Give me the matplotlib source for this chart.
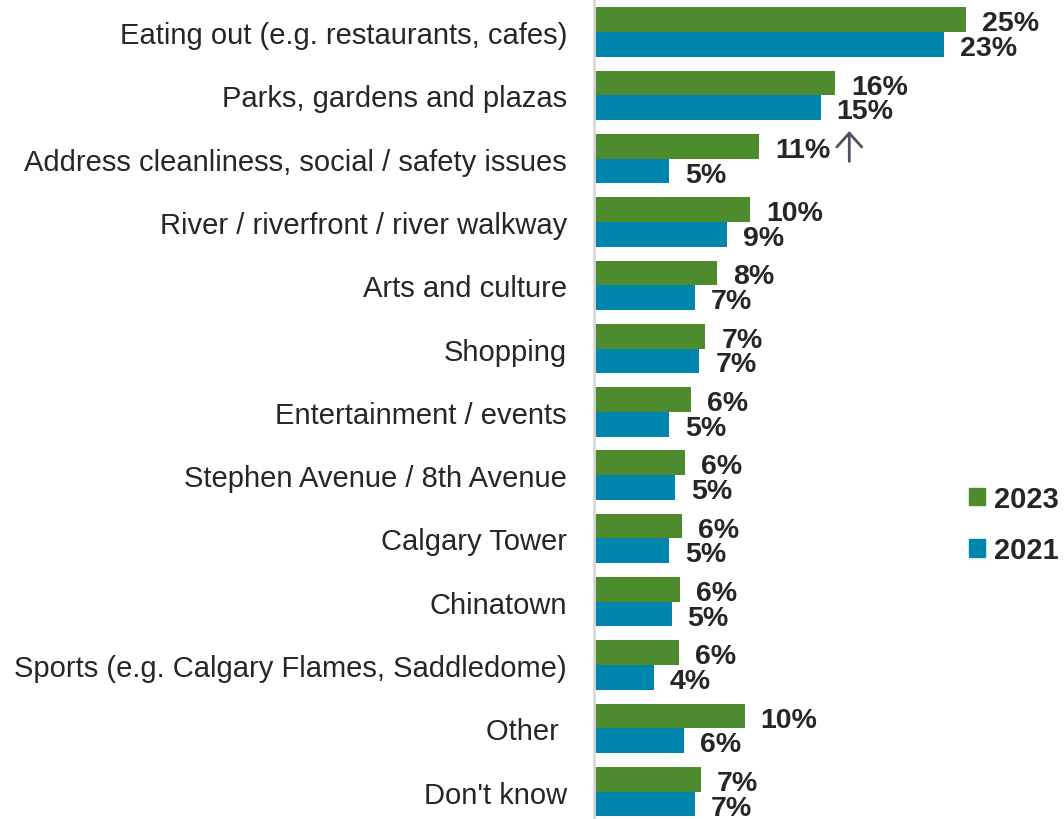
import matplotlib
matplotlib.use("Agg")
import matplotlib.pyplot as plt
from matplotlib.patches import Patch, FancyArrowPatch
from matplotlib.transforms import ScaledTranslation
import numpy as np

plt.rcParams['font.family'] = 'Liberation Sans'

categories = [
    "Eating out (e.g. restaurants, cafes)",
    "Parks, gardens and plazas",
    "Address cleanliness, social / safety issues",
    "River / riverfront / river walkway",
    "Arts and culture",
    "Shopping",
    "Entertainment / events",
    "Stephen Avenue / 8th Avenue",
    "Calgary Tower",
    "Chinatown",
    "Sports (e.g. Calgary Flames, Saddledome)",
    "Other ",
    "Don't know",
]
values_2023 = [24.6, 15.97, 10.92, 10.32, 8.16, 7.37, 6.44, 6.0, 5.8, 5.67, 5.6, 9.97, 7.06]
values_2021 = [23.18, 15.0, 4.98, 8.82, 6.68, 6.97, 4.96, 5.36, 4.96, 5.14, 3.95, 5.96, 6.68]
series_labels = ["2023", "2021"]
increase_flag_index = 2

green = "#4E8B2E"
blue = "#0086AD"
text_col = "#262626"

fig = plt.figure(figsize=(10.64, 8.2), dpi=100)
ax = fig.add_axes([594 / 1064, -0.0053, (1064 - 594) / 1064, 1.0037])

y = np.arange(len(categories))
h = 0.39
ax.barh(y - h / 2, values_2023, height=h, color=green, label=series_labels[0])
ax.barh(y + h / 2, values_2021, height=h, color=blue, label=series_labels[1])

ax.set_ylim(len(categories) - 0.5, -0.5)
ax.set_xlim(0, 470 / 15.11)

for i, (a, b) in enumerate(zip(values_2023, values_2021)):
    ax.annotate(f"{round(a)}%", xy=(a, i - h / 2), xytext=(11.5, -2.6),
                textcoords="offset points", ha="left", va="center",
                fontsize=20.5, fontweight="bold", color=text_col)
    ax.annotate(f"{round(b)}%", xy=(b, i + h / 2), xytext=(11.5, -2.6),
                textcoords="offset points", ha="left", va="center",
                fontsize=20.5, fontweight="bold", color=text_col)

# significant increase arrow
i = increase_flag_index
off = ax.transData + ScaledTranslation(65 / 72, 0, fig.dpi_scale_trans)
arr = FancyArrowPatch((values_2023[i], i - h / 2 + 0.24), (values_2023[i], i - h / 2 - 0.24),
                      transform=off, arrowstyle="->,head_length=0.5,head_width=0.45",
                      color="#4d5260", lw=2, mutation_scale=20, clip_on=False,
                      shrinkA=0, shrinkB=0)
ax.add_patch(arr)

ax.set_yticks(y)
ax.set_yticklabels(categories, fontsize=21, color=text_col)
ax.tick_params(axis="y", length=0, pad=19.5)
ax.set_xticks([])
for s in ["top", "right", "bottom"]:
    ax.spines[s].set_visible(False)
ax.spines["left"].set_color("#d9d9d9")
ax.spines["left"].set_linewidth(2)

handles = [Patch(color=green), Patch(color=blue)]
leg = fig.legend(handles, series_labels, loc="upper left",
                 bbox_to_anchor=(969 / 1064, 1 - 486 / 820),
                 frameon=False, prop={"size": 21, "weight": "bold"},
                 handlelength=0.55, handleheight=0.55, handletextpad=0.3,
                 labelspacing=0.8, borderpad=0, borderaxespad=0)
for t in leg.get_texts():
    t.set_color(text_col)

fig.savefig("out.png", dpi=100)
